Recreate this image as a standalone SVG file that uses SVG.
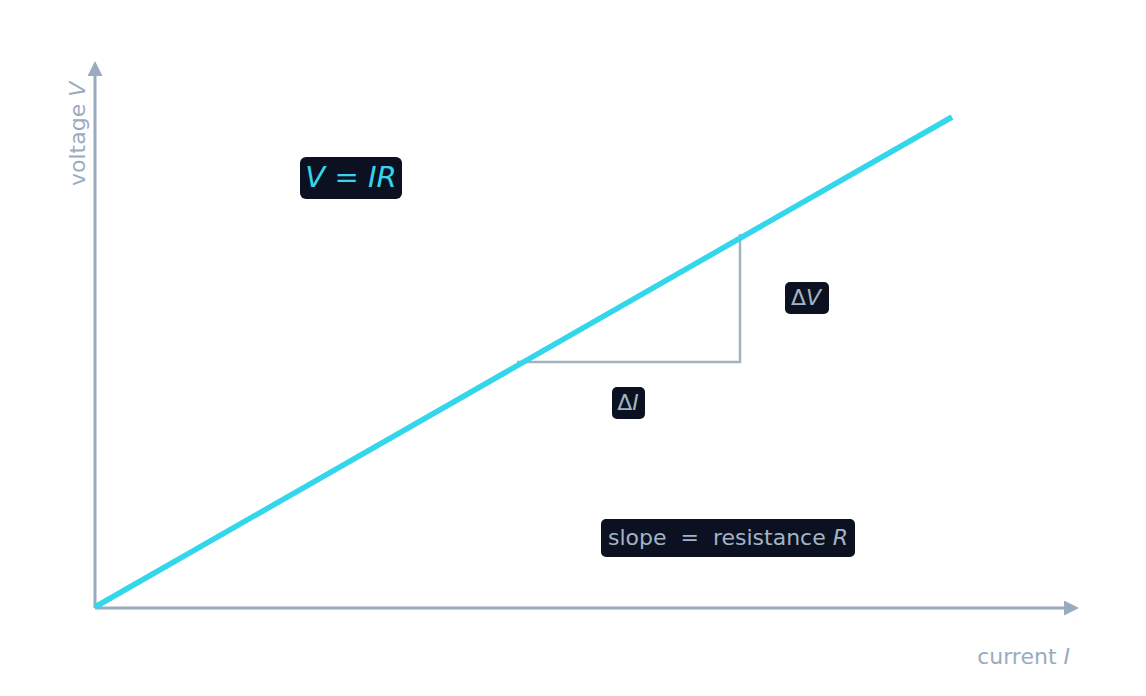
<svg xmlns="http://www.w3.org/2000/svg" width="1146" height="696" viewBox="0 0 1146 696">
<defs>
<marker id="ah" viewBox="0 0 10 10" refX="8" refY="5" markerWidth="5" markerHeight="5" orient="auto"><path d="M0,0 L10,5 L0,10 z" fill="#9aabc0"/></marker>
<style>
.ax{stroke:#9aabc0;stroke-width:3;fill:none}
.lbl{font-family:"DejaVu Sans",sans-serif;fill:#9aabc0;font-size:22px}
.box{fill:#0b1120}
.t{font-family:"DejaVu Sans",sans-serif;fill:#a3b3c6;font-size:22px}
</style>
</defs>
<rect width="1146" height="696" fill="#fff"/>
<g id="connectors">
<line class="ax" x1="95" y1="608" x2="1076" y2="608" marker-end="url(#ah)"/>
<line class="ax" x1="95" y1="608" x2="95" y2="64" marker-end="url(#ah)"/>
<polyline points="517,362 740,362 740,234" fill="none" stroke="#a3b3c0" stroke-width="2.5"/>
<line x1="95" y1="607" x2="952" y2="117" stroke="#33d6ea" stroke-width="5.5"/>
</g>
<text class="lbl" x="1070" y="664" text-anchor="end">current  <tspan font-style="italic">I</tspan></text>
<text class="lbl" transform="translate(85,186) rotate(-90)">voltage  <tspan font-style="italic">V</tspan></text>
<g id="eq"><rect class="box" x="300" y="157" width="102" height="42" rx="6"/><text x="351" y="187" text-anchor="middle" font-family="DejaVu Sans,sans-serif" font-size="29" fill="#33d6ea" font-style="italic">V<tspan font-style="normal"> = </tspan>IR</text></g>
<g id="dv"><rect class="box" x="785" y="282" width="44" height="32" rx="5"/><text class="t" x="806" y="305" text-anchor="middle">Δ<tspan font-style="italic">V</tspan></text></g>
<g id="di"><rect class="box" x="612" y="387" width="33" height="32" rx="5"/><text class="t" x="628" y="410" text-anchor="middle">Δ<tspan font-style="italic">I</tspan></text></g>
<g id="slope"><rect class="box" x="601" y="519" width="254" height="38" rx="5"/><text class="t" x="728" y="545" text-anchor="middle" xml:space="preserve">slope  =  resistance <tspan font-style="italic">R</tspan></text></g>
</svg>
